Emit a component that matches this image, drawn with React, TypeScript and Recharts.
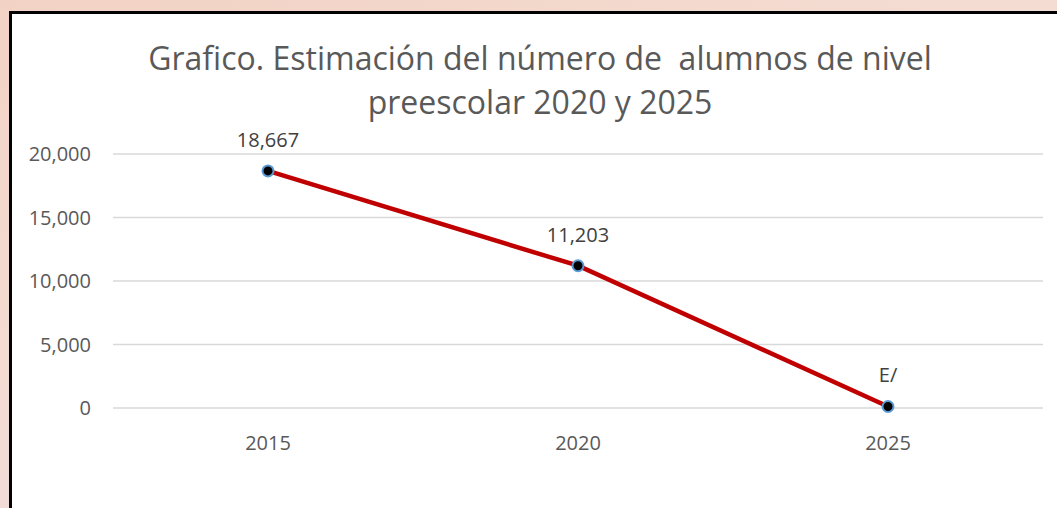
import React from "react";
import { LineChart, Line, XAxis, YAxis, CartesianGrid, LabelList } from "recharts";

const years = ["2015", "2020", "2025"];
const students = [18667, 11203, 120];
const pointLabels = ["18,667", "11,203", "E/"];
const yTicks = [0, 5000, 10000, 15000, 20000];

const data = years.map((y, i) => ({ year: y, value: students[i], label: pointLabels[i] }));

const FONT = "'Open Sans', 'Noto Sans', sans-serif";

const renderLabel = (props: any) => {
  const { x, y, index } = props;
  return (
    <text x={x} y={y - 24} textAnchor="middle" fill="#404040" fontSize={20} fontFamily={FONT}>
      {pointLabels[index]}
    </text>
  );
};

const Dot = (props: any) => {
  const { cx, cy } = props;
  return <circle cx={cx} cy={cy} r={5.5} fill="#000" stroke="#5B9BD5" strokeWidth={2} />;
};

export default function App() {
  return (
    <div
      style={{
        position: "absolute",
        left: 0,
        top: 0,
        width: 1057,
        height: 508,
        overflow: "hidden",
        background: "linear-gradient(160deg, #f2d2c4 0%, #f4dcd2 40%, #efdbe6 100%)",
      }}
    >
      <div
        style={{
          position: "absolute",
          left: 9,
          top: 11,
          width: 1100,
          height: 600,
          background: "#fff",
          borderLeft: "3px solid #000",
          borderTop: "3px solid #000",
        }}
      />
      <div
        style={{
          position: "absolute",
          left: 0,
          top: 36,
          width: 1080,
          textAlign: "center",
          fontFamily: FONT,
          fontSize: 32,
          lineHeight: "44px",
          color: "#595959",
          whiteSpace: "pre",
        }}
      >
        {"Grafico. Estimación del número de  alumnos de nivel\npreescolar 2020 y 2025"}
      </div>
      <div style={{ position: "absolute", left: 0, top: 0 }}>
        <LineChart
          width={1057}
          height={508}
          data={data}
          margin={{ top: 154, right: 14, bottom: 70, left: 0 }}
        >
          <CartesianGrid vertical={false} stroke="#D9D9D9" strokeWidth={1.5} />
          <XAxis
            dataKey="year"
            axisLine={false}
            tickLine={false}
            tickMargin={22}
            height={30}
            padding={{ left: 155, right: 155 }}
            tick={{ fill: "#595959", fontSize: 20, fontFamily: FONT }}
          />
          <YAxis
            domain={[0, 20000]}
            ticks={yTicks}
            width={113}
            axisLine={false}
            tickLine={false}
            tickMargin={16}
            tickFormatter={(v: number) => v.toLocaleString("en-US")}
            tick={{ fill: "#595959", fontSize: 20, fontFamily: FONT }}
          />
          <Line
            dataKey="value"
            stroke="#C00000"
            strokeWidth={4.5}
            dot={<Dot />}
            activeDot={false}
            isAnimationActive={false}
          >
            <LabelList dataKey="label" content={renderLabel} />
          </Line>
        </LineChart>
      </div>
    </div>
  );
}
